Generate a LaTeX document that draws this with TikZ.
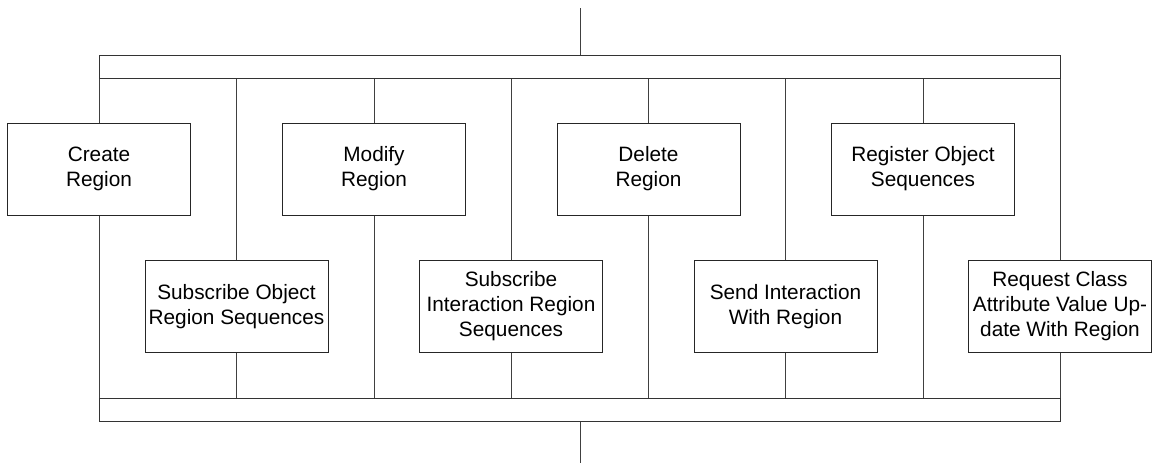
\documentclass[tikz,border=0pt]{standalone}
\usepackage{fontspec}
\setmainfont{Liberation Sans}
\begin{document}
\begin{tikzpicture}[x=1pt,y=-1pt,
  box/.style={draw=black!85,line width=1pt,fill=white,minimum width=183pt,minimum height=92pt,inner sep=0pt,align=center,font=\fontsize{20.8}{25}\selectfont},
  bar/.style={draw=black!80,line width=1pt,minimum width=961pt,minimum height=23pt,inner sep=0pt},
  link/.style={draw=black!75,line width=1pt}]
\useasboundingbox (0,0) rectangle (1156,463);
\node[bar] (topbar) at (579.5,66.5) {};
\node[bar] (botbar) at (579.5,409.5) {};
\coordinate (tin) at (580,8);
\coordinate (bout) at (580,463);
\draw[link] (tin) -- (topbar.north -| tin);
\draw[link] (botbar.south -| bout) -- (bout);
% upper boxes
\node[box] (create) at (99,169) {Create\\Region};
\node[box] (modify) at (374,169) {Modify\\Region};
\node[box] (delete) at (648.5,169) {Delete\\Region};
\node[box] (register) at (923,169) {Register Object\\Sequences};
% lower boxes
\node[box] (subobj) at (236.5,306.5) {Subscribe Object\\Region Sequences};
\node[box] (subint) at (511,306.5) {Subscribe\\Interaction Region\\Sequences};
\node[box] (send) at (785.5,306.5) {Send Interaction\\With Region};
\node[box] (request) at (1060,306.5) {Request Class\\Attribute Value Up-\\date With Region};
\foreach \n in {create,modify,delete,register,subobj,subint,send,request}{
  \draw[link] (topbar.south -| \n.north) -- (\n.north);
  \draw[link] (\n.south) -- (botbar.north -| \n.south);
}
\end{tikzpicture}
\end{document}
